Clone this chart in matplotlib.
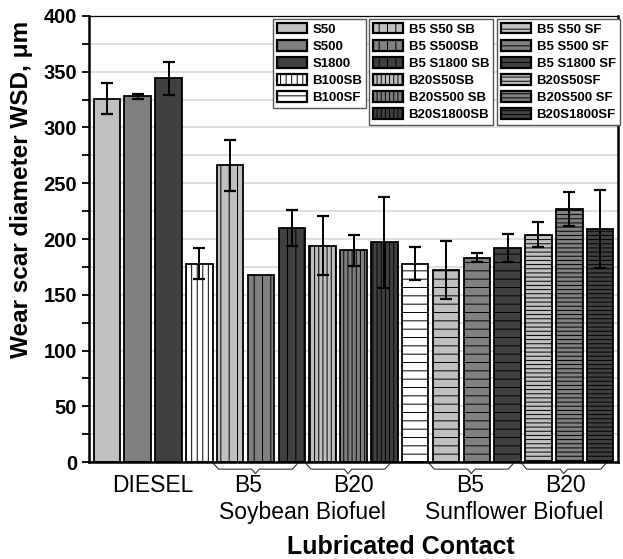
import numpy as np
import matplotlib
matplotlib.use("Agg")
import matplotlib.pyplot as plt
from matplotlib.patches import Patch
from matplotlib.ticker import MultipleLocator

plt.rcParams['font.family'] = ['Liberation Sans', 'DejaVu Sans']
plt.rcParams['hatch.linewidth'] = 0.7

# ---------------- data ----------------
bar_labels = ["S50", "S500", "S1800", "B100SB",
              "B5 S50 SB", "B5 S500SB", "B5 S1800 SB",
              "B20S50SB", "B20S500 SB", "B20S1800SB",
              "B100SF",
              "B5 S50 SF", "B5 S500 SF", "B5 S1800 SF",
              "B20S50SF", "B20S500 SF", "B20S1800SF"]
wsd_values = [326, 328, 344, 178,
              266, 168, 210,
              194, 190, 197,
              178,
              172, 183, 192,
              204, 227, 209]
wsd_errors = [14, 2, 15, 13.5,
              23, 0, 16,
              26.5, 14, 41,
              15,
              26, 4, 12.5,
              11.5, 15, 35]
group_labels = ["DIESEL", "B5", "B20", "B5", "B20"]
fuel_labels = ["Soybean Biofuel", "Sunflower Biofuel"]
y_ticks = [0, 50, 100, 150, 200, 250, 300, 350, 400]

# ---------------- styles ----------------
LIGHT, MED, DARK, WHITE = "#c0c0c0", "#808080", "#404040", "#ffffff"
colors = [LIGHT, MED, DARK, WHITE,
          LIGHT, MED, DARK,
          LIGHT, MED, DARK,
          WHITE,
          LIGHT, MED, DARK,
          LIGHT, MED, DARK]
hatches = ["", "", "", "|||",
           "||", "||", "||",
           "||||", "||||", "||||",
           "--",
           "--", "--", "--",
           "----", "----", "----"]
# small horizontal nudges (in bar units) of the category labels
group_label_shift = [0.0, -0.42, 0.0, -0.22, -0.12]
fuel_label_shift = [-0.15, -0.3]

fig = plt.figure(figsize=(6.23, 5.59), dpi=100)
ax = fig.add_axes([0.1429, 0.1735, 0.8491, 0.7979])

x = np.arange(len(wsd_values))
bars = ax.bar(x, wsd_values, width=0.86, color=colors, edgecolor="black",
              linewidth=1.3, hatch=hatches, zorder=2)

yerr = np.array(wsd_errors, dtype=float)
mask = yerr > 0
ax.errorbar(x[mask], np.array(wsd_values)[mask], yerr=yerr[mask], fmt="none",
            ecolor="black", elinewidth=1.4, capsize=4.5, capthick=1.6, zorder=3)

ax.set_xlim(-0.58, len(wsd_values) - 1 + 0.58)
ax.set_ylim(0, 400)
ax.set_yticks(y_ticks)
ax.yaxis.set_minor_locator(MultipleLocator(25))
ax.tick_params(axis="y", which="both", direction="out", length=5, width=1.3,
               labelsize=14.5, pad=3.5)
for lab in ax.get_yticklabels():
    lab.set_fontweight("bold")
ax.set_xticks([])
ax.grid(axis="y", which="both", color="#d6d6d6", linewidth=1.1, zorder=0)
ax.set_axisbelow(True)

for s in ["left", "right", "bottom"]:
    ax.spines[s].set_linewidth(1.8)
ax.spines["top"].set_linewidth(0.9)

ax.set_ylabel("Wear scar diameter WSD, μm", fontsize=17.5, fontweight="bold")
ax.yaxis.set_label_coords(-0.106, 0.612)

# ---------------- category labels & brackets ----------------
groups = [[0, 1, 2, 3], [4, 5, 6], [7, 8, 9], [11, 12, 13], [14, 15, 16]]
trans = ax.get_xaxis_transform()
for g, lab, dx in zip(groups, group_labels, group_label_shift):
    xc = np.mean(x[g]) + dx
    ax.text(xc, -0.052, lab, transform=trans, ha="center", va="center",
            fontsize=16.5)
for g in groups[1:]:
    x0, x1 = x[g[0]] - 0.56, x[g[-1]] + 0.2
    xm = (x0 + x1) / 2
    bx = [x0, x0 + 0.18, xm - 0.12, xm, xm + 0.12, x1 - 0.18, x1]
    by = [-0.002, -0.016, -0.016, -0.026, -0.016, -0.016, -0.002]
    ax.plot(bx, by, transform=trans, color="#333333", lw=0.8, clip_on=False)
for pair, lab, dx in zip([(groups[1], groups[2]), (groups[3], groups[4])],
                         fuel_labels, fuel_label_shift):
    xc = (np.mean(x[pair[0]]) + np.mean(x[pair[1]])) / 2 + dx
    ax.text(xc, -0.113, lab, transform=trans, ha="center", va="center",
            fontsize=16.5)
fig.text(401 / 623, 1 - 547 / 559, "Lubricated Contact",
         ha="center", va="center", fontsize=18, fontweight="bold")

# ---------------- legends ----------------
def handles_for(idx):
    return [Patch(facecolor=colors[i], edgecolor="black", hatch=hatches[i],
                  linewidth=1.6, label=bar_labels[i]) for i in idx]

legend_sets = [([0, 1, 2, 3, 10], 273), ([4, 5, 6, 7, 8, 9], 369),
               ([11, 12, 13, 14, 15, 16], 497)]
for idx, px in legend_sets:
    leg = fig.legend(handles=handles_for(idx), loc="upper left",
                     bbox_to_anchor=(px / 623, 1 - 19 / 559),
                     bbox_transform=fig.transFigure, borderaxespad=0,
                     prop={"weight": "bold", "size": 9.5},
                     handlelength=2.3, handleheight=0.85, handletextpad=0.4,
                     labelspacing=0.32, borderpad=0.3, fancybox=False,
                     framealpha=1, edgecolor="#555555")
    leg.get_frame().set_linewidth(1.0)

fig.savefig("out.png", dpi=100)
